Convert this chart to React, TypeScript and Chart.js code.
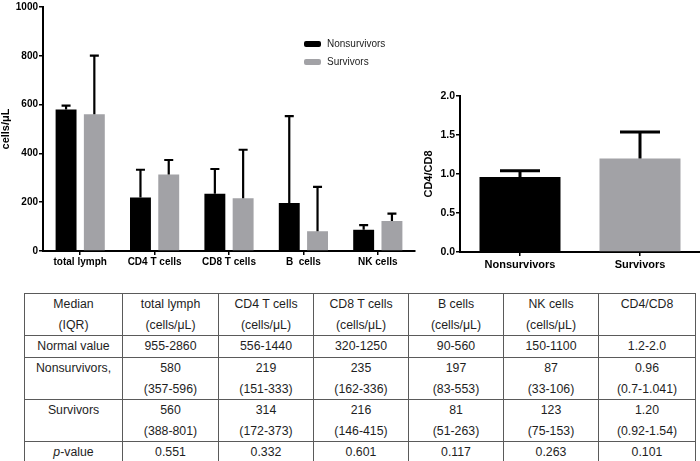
import React, { useEffect, useRef } from 'react';
import { Chart, registerables } from 'chart.js';

Chart.register(...registerables);

// ---- data ----
const groups = ['Nonsurvivors', 'Survivors'];
const cellTypes = ['total lymph', 'CD4 T cells', 'CD8 T cells', 'B  cells', 'NK cells'];
const nonsurvivorMedian = [580, 219, 235, 197, 87];
const nonsurvivorQ1 = [357, 151, 162, 83, 33];
const nonsurvivorQ3 = [596, 333, 336, 553, 106];
const survivorMedian = [560, 314, 216, 81, 123];
const survivorQ1 = [388, 172, 146, 51, 75];
const survivorQ3 = [801, 373, 415, 263, 153];
const ratioMedian = [0.96, 1.2];
const ratioQ1 = [0.7, 0.92];
const ratioQ3 = [1.041, 1.54];
const countTicks = [0, 200, 400, 600, 800, 1000];
const ratioTicks = [0, 0.5, 1.0, 1.5, 2.0];
const normalValues = ['955-2860', '556-1440', '320-1250', '90-560', '150-1100', '1.2-2.0'];
const pValues = ['0.551', '0.332', '0.601', '0.117', '0.263', '0.101'];

const FONT = '"Liberation Sans", Arial, Helvetica, sans-serif';
const BLACK = '#000000';
const GRAY = '#a2a2a6';

// upper-IQR whiskers drawn on top of the bars
function makeErrorBars(uppers: number[][], cap: number, lineWidth: number) {
  return {
    id: 'errorBars',
    afterDatasetsDraw(chart: any) {
      const { ctx } = chart;
      const yScale = chart.scales.y;
      ctx.save();
      ctx.strokeStyle = '#000';
      ctx.lineWidth = lineWidth;
      ctx.lineCap = 'butt';
      chart.data.datasets.forEach((ds: any, i: number) => {
        const up = uppers[i];
        if (!up) return;
        const meta = chart.getDatasetMeta(i);
        meta.data.forEach((bar: any, j: number) => {
          const x = bar.x;
          const y0 = yScale.getPixelForValue(ds.data[j]);
          const y1 = yScale.getPixelForValue(up[j]);
          ctx.beginPath();
          ctx.moveTo(x, y0);
          ctx.lineTo(x, y1);
          ctx.moveTo(x - cap / 2, y1);
          ctx.lineTo(x + cap / 2, y1);
          ctx.stroke();
        });
      });
      ctx.restore();
    },
  };
}

// small legend placed inside the plot area
function makeLegend(x: number, y: number, rowGap: number) {
  return {
    id: 'groupLegend',
    afterDraw(chart: any) {
      const { ctx } = chart;
      ctx.save();
      ctx.font = `10px ${FONT}`;
      ctx.textBaseline = 'middle';
      chart.data.datasets.forEach((ds: any, i: number) => {
        const cy = y + i * rowGap;
        ctx.fillStyle = ds.backgroundColor;
        ctx.beginPath();
        (ctx as any).roundRect(x, cy - 3, 17, 6, 2);
        ctx.fill();
        ctx.fillStyle = '#222';
        ctx.fillText(ds.label, x + 23, cy + 0.5);
      });
      ctx.restore();
    },
  };
}

function CountChart() {
  const ref = useRef<HTMLCanvasElement>(null);
  useEffect(() => {
    const chart = new Chart(ref.current as HTMLCanvasElement, {
      type: 'bar',
      data: {
        labels: cellTypes,
        datasets: [
          {
            label: groups[0],
            data: nonsurvivorMedian,
            backgroundColor: BLACK,
            borderWidth: 0,
            categoryPercentage: 0.76,
            barPercentage: 0.74,
          },
          {
            label: groups[1],
            data: survivorMedian,
            backgroundColor: GRAY,
            borderWidth: 0,
            categoryPercentage: 0.76,
            barPercentage: 0.74,
          },
        ],
      },
      options: {
        responsive: false,
        animation: false,
        devicePixelRatio: 1,
        layout: { padding: { top: 4, right: 5, left: 0, bottom: 0 } },
        plugins: { legend: { display: false }, tooltip: { enabled: false } },
        scales: {
          x: {
            grid: { offset: false, drawOnChartArea: false, tickLength: 4, color: '#000', lineWidth: 1.5 },
            border: { width: 2, color: '#000' },
            ticks: {
              color: '#000',
              font: { family: FONT, size: 10, weight: 'bold' },
              padding: 1,
              maxRotation: 0,
              autoSkip: false,
            },
            afterFit: (s: any) => {
              s.height = 21;
            },
          },
          y: {
            min: countTicks[0],
            max: countTicks[countTicks.length - 1],
            afterBuildTicks: (s: any) => {
              s.ticks = countTicks.map((v) => ({ value: v }));
            },
            grid: { drawOnChartArea: false, tickLength: 4, color: '#000', lineWidth: 1.5 },
            border: { width: 2, color: '#000' },
            ticks: {
              color: '#000',
              font: { family: FONT, size: 10, weight: 'bold' },
              padding: 1,
              callback: (v: any) => String(v),
            },
            title: {
              display: true,
              text: 'cells/μL',
              color: '#000',
              font: { family: FONT, size: 11, weight: 'bold', lineHeight: 1 },
              padding: { top: 0, bottom: 0 },
            },
            afterFit: (s: any) => {
              s.width = 43;
            },
          },
        },
      },
      plugins: [makeErrorBars([nonsurvivorQ3, survivorQ3], 9, 2.2), makeLegend(304, 44, 18)],
    } as any);
    return () => chart.destroy();
  }, []);
  return (
    <canvas
      ref={ref}
      width={420}
      height={272}
      style={{ position: 'absolute', left: 0, top: 0, width: 420, height: 272 }}
    />
  );
}

function RatioChart() {
  const ref = useRef<HTMLCanvasElement>(null);
  useEffect(() => {
    const chart = new Chart(ref.current as HTMLCanvasElement, {
      type: 'bar',
      data: {
        labels: groups,
        datasets: [
          {
            label: 'CD4/CD8',
            data: ratioMedian,
            backgroundColor: [BLACK, GRAY],
            borderWidth: 0,
            categoryPercentage: 0.9,
            barPercentage: 0.75,
          },
        ],
      },
      options: {
        responsive: false,
        animation: false,
        devicePixelRatio: 1,
        layout: { padding: { top: 11, right: 0, left: 4, bottom: 0 } },
        plugins: { legend: { display: false }, tooltip: { enabled: false } },
        scales: {
          x: {
            grid: { offset: false, drawOnChartArea: false, tickLength: 4, color: '#000', lineWidth: 1.5 },
            border: { width: 2, color: '#000' },
            ticks: {
              color: '#000',
              font: { family: FONT, size: 11, weight: 'bold' },
              padding: 2,
              maxRotation: 0,
              autoSkip: false,
            },
            afterFit: (s: any) => {
              s.height = 20;
            },
          },
          y: {
            min: ratioTicks[0],
            max: ratioTicks[ratioTicks.length - 1],
            afterBuildTicks: (s: any) => {
              s.ticks = ratioTicks.map((v) => ({ value: v }));
            },
            grid: { drawOnChartArea: false, tickLength: 4, color: '#000', lineWidth: 1.5 },
            border: { width: 2, color: '#000' },
            ticks: {
              color: '#000',
              font: { family: FONT, size: 10.5, weight: 'bold' },
              padding: 1,
              callback: (v: any) => Number(v).toFixed(1),
            },
            title: {
              display: true,
              text: 'CD4/CD8',
              color: '#000',
              font: { family: FONT, size: 11, weight: 'bold', lineHeight: 1 },
              padding: { top: 4.5, bottom: 0 },
            },
            afterFit: (s: any) => {
              s.width = 41;
            },
          },
        },
      },
      plugins: [makeErrorBars([ratioQ3], 40, 3)],
    } as any);
    return () => chart.destroy();
  }, []);
  return (
    <canvas
      ref={ref}
      width={285}
      height={187}
      style={{ position: 'absolute', left: 415, top: 85, width: 285, height: 187 }}
    />
  );
}

const colWidths = [98, 96, 95, 95, 95, 95, 97];
const rowHeights = [41, 22, 41, 42, 21];

function SummaryTable() {
  const cell: React.CSSProperties = {
    border: '1px solid #5a5a5a',
    padding: 0,
    textAlign: 'center',
    verticalAlign: 'top',
    lineHeight: '20.5px',
    whiteSpace: 'nowrap',
  };
  const fmtCount = (m: number, q1: number, q3: number) => [String(m), `(${q1}-${q3})`];
  const nonsurvivorCells = cellTypes.map((_, i) =>
    fmtCount(nonsurvivorMedian[i], nonsurvivorQ1[i], nonsurvivorQ3[i])
  );
  nonsurvivorCells.push([ratioMedian[0].toFixed(2), `(${ratioQ1[0]}-${ratioQ3[0]})`]);
  const survivorCells = cellTypes.map((_, i) => fmtCount(survivorMedian[i], survivorQ1[i], survivorQ3[i]));
  survivorCells.push([ratioMedian[1].toFixed(2), `(${ratioQ1[1]}-${ratioQ3[1]})`]);
  const headers = cellTypes.map((c) => [c.replace(/\s+/g, ' '), '(cells/μL)']);
  headers.push(['CD4/CD8', '']);

  const twoLine = (lines: string[]) => (
    <>
      {lines[0]}
      <br />
      {lines[1] || '\u00a0'}
    </>
  );

  return (
    <table
      style={{
        position: 'absolute',
        left: 24,
        top: 293,
        borderCollapse: 'collapse',
        tableLayout: 'fixed',
        width: colWidths.reduce((a, b) => a + b, 0),
        fontFamily: FONT,
        fontSize: '12.3px',
        color: '#1e1e1e',
      }}
    >
      <colgroup>
        {colWidths.map((w, i) => (
          <col key={i} style={{ width: w }} />
        ))}
      </colgroup>
      <tbody>
        <tr style={{ height: rowHeights[0] }}>
          <td style={cell}>{twoLine(['Median', '(IQR)'])}</td>
          {headers.map((h, i) => (
            <td key={i} style={cell}>
              {twoLine(h)}
            </td>
          ))}
        </tr>
        <tr style={{ height: rowHeights[1] }}>
          <td style={{ ...cell, verticalAlign: 'middle' }}>Normal value</td>
          {normalValues.map((v, i) => (
            <td key={i} style={{ ...cell, verticalAlign: 'middle' }}>
              {v}
            </td>
          ))}
        </tr>
        <tr style={{ height: rowHeights[2] }}>
          <td style={cell}>{groups[0]},</td>
          {nonsurvivorCells.map((v, i) => (
            <td key={i} style={cell}>
              {twoLine(v)}
            </td>
          ))}
        </tr>
        <tr style={{ height: rowHeights[3] }}>
          <td style={cell}>{groups[1]}</td>
          {survivorCells.map((v, i) => (
            <td key={i} style={cell}>
              {twoLine(v)}
            </td>
          ))}
        </tr>
        <tr style={{ height: rowHeights[4] }}>
          <td style={{ ...cell, verticalAlign: 'middle' }}>
            <i>p</i>-value
          </td>
          {pValues.map((v, i) => (
            <td key={i} style={{ ...cell, verticalAlign: 'middle' }}>
              {v}
            </td>
          ))}
        </tr>
      </tbody>
    </table>
  );
}

export default function App() {
  return (
    <div
      style={{
        position: 'absolute',
        left: 0,
        top: 0,
        width: 700,
        height: 461,
        background: '#fff',
        overflow: 'hidden',
      }}
    >
      <CountChart />
      <RatioChart />
      <SummaryTable />
    </div>
  );
}
